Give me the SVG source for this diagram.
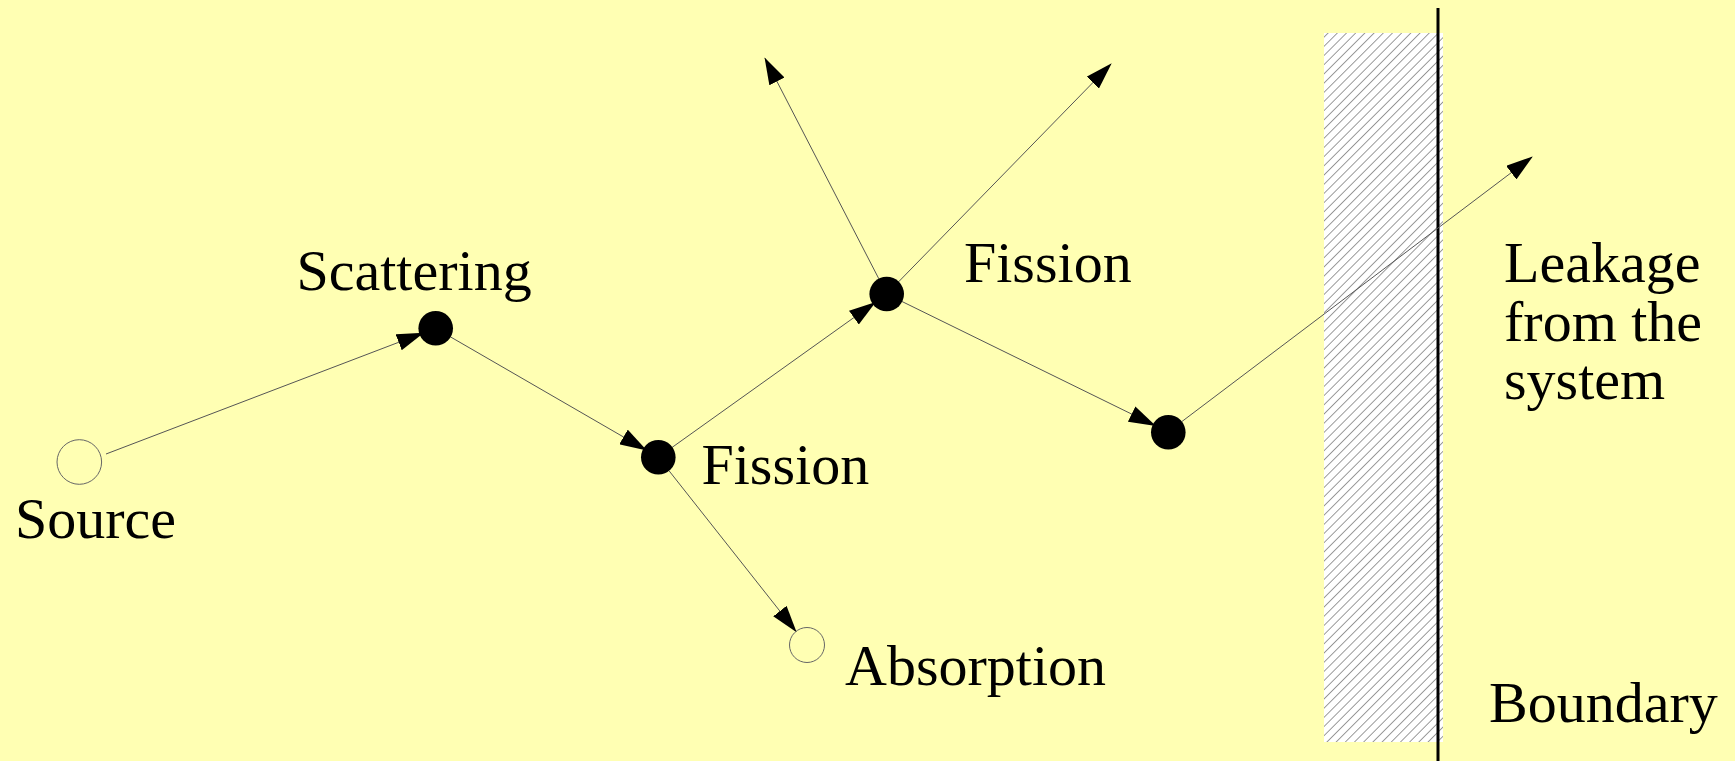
<svg xmlns="http://www.w3.org/2000/svg" width="1735" height="761" viewBox="0 0 1735 761">
<style>
text{font-family:'Liberation Serif','Times New Roman',Tinos,'DejaVu Serif',serif;font-size:58px;fill:#000}
.conn{stroke:#555;stroke-width:1;fill:none;marker-end:url(#ah)}
.open{fill:none;stroke:#666;stroke-width:1}
.full{fill:#000}
</style>
<defs>
<marker id="ah" markerUnits="userSpaceOnUse" viewBox="0 0 27 17" refX="26" refY="8.5" markerWidth="27" markerHeight="17" orient="auto">
<path d="M0,0 L27,8.5 L0,17 z" fill="#000"/>
</marker>
<pattern id="hatch" patternUnits="userSpaceOnUse" width="6.5" height="6.5" patternTransform="rotate(45)">
<rect width="6.5" height="6.5" fill="#fff"/>
<line x1="0" y1="0" x2="0" y2="6.5" stroke="#666" stroke-width="1.3"/>
</pattern>
</defs>
<rect width="1735" height="761" fill="#FFFFB3"/>
<g id="boundary">
<rect x="1324" y="33" width="119" height="709" fill="url(#hatch)"/>
<line x1="1438" y1="8" x2="1438" y2="761" stroke="#000" stroke-width="3"/>
<text x="1489" y="722" font-family="Liberation Serif, serif">Boundary</text>
</g>
<g id="connectors">
<path class="conn" d="M106,454 L423,333"/>
<path class="conn" d="M450.7,337 L646,450"/>
<path class="conn" d="M672.1,447.4 L875,302.5"/>
<path class="conn" d="M668.9,470.6 L796,631.5"/>
<path class="conn" d="M878.9,278.9 L765,58.3"/>
<path class="conn" d="M898.6,281.8 L1111,64"/>
<path class="conn" d="M902,301.5 L1155,425.5"/>
<path class="conn" d="M1181.8,421.6 L1532,157"/>
</g>
<g id="source">
<circle class="open" cx="79.3" cy="462" r="22.3"/>
<text x="15" y="538">Source</text>
</g>
<g id="scattering">
<circle class="full" cx="435.7" cy="328.3" r="17.3"/>
<text x="296.5" y="290">Scattering</text>
</g>
<g id="fission1">
<circle class="full" cx="658.3" cy="457.3" r="17.3"/>
<text x="701.5" y="484">Fission</text>
</g>
<g id="absorption">
<circle class="open" cx="807" cy="645" r="17.5"/>
<text x="845" y="685">Absorption</text>
</g>
<g id="fission2">
<circle class="full" cx="886.7" cy="294" r="17.3"/>
<text x="964" y="282">Fission</text>
</g>
<g id="node4">
<circle class="full" cx="1168.3" cy="432.3" r="17.3"/>
</g>
<g id="leakage">
<text x="1504" y="282">Leakage</text>
<text x="1504" y="341">from the</text>
<text x="1504" y="399">system</text>
</g>
</svg>
